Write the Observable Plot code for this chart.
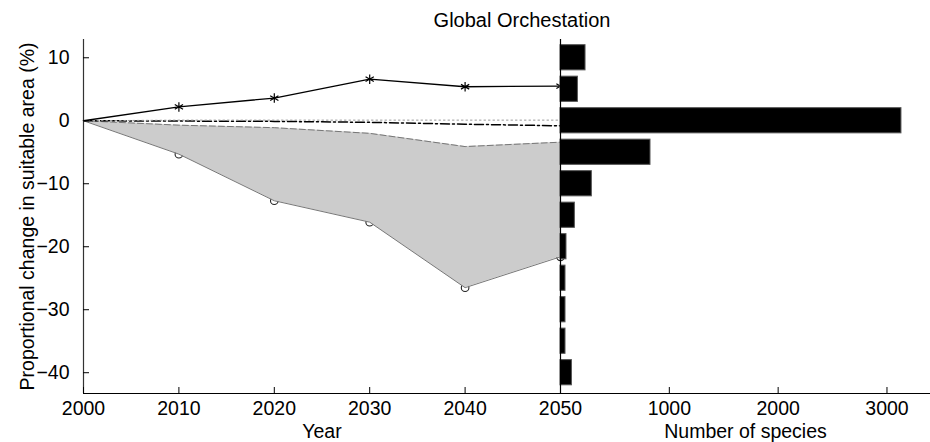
<!DOCTYPE html>
<html><head><meta charset="utf-8">
<script src="https://cdn.jsdelivr.net/npm/d3@7"></script>
<script src="https://cdn.jsdelivr.net/npm/@observablehq/plot@0.6"></script>
<style>
body{margin:0;background:#fff;}
#wrap{position:relative;width:930px;height:442px;font-family:"Liberation Sans",Arial,sans-serif;}
#wrap svg{position:absolute;left:0;top:0;}
#title{position:absolute;left:522px;top:10px;transform:translateX(-50%);font-size:20px;line-height:20px;white-space:nowrap;color:#000;}
</style></head><body>
<div id="wrap"><div id="title">Global Orchestation</div></div>
<script>
// ---- data ----
const years = [2000, 2010, 2020, 2030, 2040, 2050];
const starSeries = [0, 2.2, 3.6, 6.6, 5.4, 5.5];          // solid line, asterisks
const dashedSeries = [0, -0.7, -1.1, -2.0, -4.1, -3.4];   // dashed upper edge of shaded band
const lowerSeries = [0, -5.3, -12.7, -16.1, -26.5, -21.6];// lower edge, circles
const dashDotSeries = [0, -0.05, -0.1, -0.25, -0.55, -0.8];
const dottedSeries = [0, 0.1, 0.1, 0.1, 0.1, 0.1];
const binCenters = [10, 5, 0, -5, -10, -15, -20, -25, -30, -35, -40];
const speciesCounts = [230, 160, 3133, 827, 288, 132, 55, 46, 46, 46, 105];
const yearTicks = [2000, 2010, 2020, 2030, 2040, 2050];
const pctTicks = [10, 0, -10, -20, -30, -40];
const countTicks = [1000, 2000, 3000];

// ---- tables ----
const rows = years.map((year, i) => ({
  year, star: starSeries[i], dashed: dashedSeries[i], lower: lowerSeries[i],
  dashdot: dashDotSeries[i], dotted: dottedSeries[i]
}));
const bins = binCenters.map((c, i) => ({center: c, count: speciesCounts[i]}));

const W = 930, H = 442, splitX = 560;
const yDomain = [-43.3, 12.9];
const yearDomain = [2000, 2050];
const countDomain = [0, 3400];
const common = {
  width: W, height: H, marginTop: 39, marginBottom: 49,
  style: {fontFamily: "Liberation Sans, Arial, sans-serif", fontSize: "19.5px", color: "black", background: "transparent", overflow: "visible"}
};

const left = Plot.plot({
  ...common, marginLeft: 83, marginRight: W - splitX,
  x: {domain: yearDomain},
  y: {domain: yDomain},
  marks: [
    Plot.dot(rows.slice(1), {x: "year", y: "lower", r: 3.8, stroke: "#222", strokeWidth: 1.1, fill: "white"}),
    Plot.areaY(rows, {x: "year", y1: "lower", y2: "dashed", fill: "#cccccc"}),
    Plot.line(rows, {x: "year", y: "lower", stroke: "#777", strokeWidth: 1}),
    Plot.line(rows, {x: "year", y: "dashed", stroke: "#777", strokeWidth: 1, strokeDasharray: "6,3"}),
    Plot.line(rows, {x: "year", y: "dashdot", stroke: "black", strokeWidth: 1.5, strokeDasharray: "9,3,2,3"}),
    Plot.line(rows, {x: "year", y: "dotted", stroke: "#999", strokeWidth: 1, strokeDasharray: "1.5,3"}),
    Plot.line(rows, {x: "year", y: "star", stroke: "black", strokeWidth: 1.3}),
    Plot.dot(rows.slice(1), {x: "year", y: "star", symbol: "asterisk", r: 4.5, stroke: "black", strokeWidth: 1.2}),
    Plot.ruleX([yearDomain[0]], {stroke: "#333", strokeWidth: 1.2}),
    Plot.ruleY([yDomain[0]], {stroke: "black", strokeWidth: 1.2}),
    Plot.axisY({ticks: pctTicks, tickSize: -6, tickPadding: 20, tickFormat: d => d < 0 ? "\u2212" + Math.abs(d) : String(d),
      label: "Proportional change in suitable area (%)", labelAnchor: "center", labelOffset: 63, labelArrow: "none"}),
    Plot.axisX({ticks: yearTicks, tickSize: -6, tickPadding: 14, tickFormat: d => String(d),
      label: "Year", labelAnchor: "center", labelOffset: 44, labelArrow: "none"})
  ]
});

const hist = Plot.plot({
  ...common, marginLeft: splitX, marginRight: 0,
  x: {domain: countDomain},
  y: {domain: yDomain, axis: null},
  marks: [
    Plot.rectX(bins, {x1: 0, x2: "count", y1: d => d.center - 2, y2: d => d.center + 2, fill: "black", stroke: "#555", strokeWidth: 1}),
    Plot.ruleX([countDomain[0]], {stroke: "black", strokeWidth: 1.2}),
    Plot.ruleY([yDomain[0]], {stroke: "black", strokeWidth: 1.2}),
    Plot.axisX({ticks: countTicks, tickSize: -6, tickPadding: 14, tickFormat: d => String(d),
      label: "Number of species", labelAnchor: "center", labelOffset: 44, labelArrow: "none"})
  ]
});

const wrap = document.getElementById("wrap");
wrap.appendChild(left);
wrap.appendChild(hist);
</script>
</body></html>
